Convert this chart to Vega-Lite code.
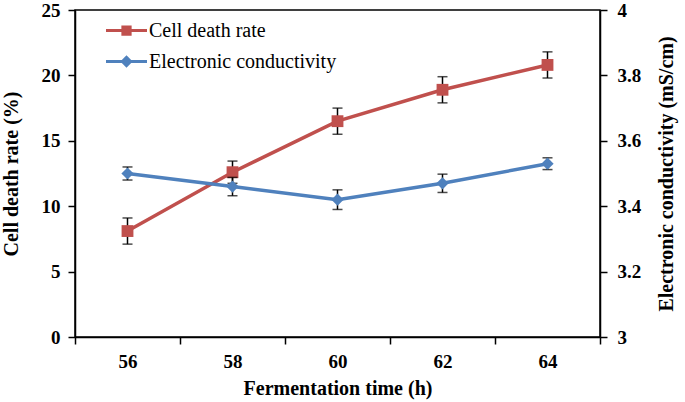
{
  "$schema": "https://vega.github.io/schema/vega-lite/v6.json",
  "width": 525,
  "height": 327,
  "autosize": {"type": "none"},
  "padding": {"left": 75, "top": 10, "right": 85, "bottom": 65},
  "config": {
    "view": {"stroke": "black", "strokeWidth": 1.5},
    "font": "Liberation Serif, Times New Roman, serif",
    "axis": {
      "labelFont": "Liberation Serif, Times New Roman, serif", "labelFontWeight": "bold", "labelFontSize": 19, "labelColor": "black",
      "titleFont": "Liberation Serif, Times New Roman, serif", "titleFontWeight": "bold", "titleFontSize": 20, "titleColor": "black",
      "domainColor": "black", "domainWidth": 1.5, "tickColor": "black", "tickWidth": 1.5, "tickSize": 7,
      "grid": false
    }
  },
  "data": {
    "values": [
      {"time": "56", "series": "Cell death rate", "value": 8.1, "err": 1.0},
      {"time": "58", "series": "Cell death rate", "value": 12.6, "err": 0.85},
      {"time": "60", "series": "Cell death rate", "value": 16.5, "err": 1.0},
      {"time": "62", "series": "Cell death rate", "value": 18.9, "err": 1.0},
      {"time": "64", "series": "Cell death rate", "value": 20.8, "err": 1.0},
      {"time": "56", "series": "Electronic conductivity", "value": 3.50, "err": 0.02},
      {"time": "58", "series": "Electronic conductivity", "value": 3.46, "err": 0.028},
      {"time": "60", "series": "Electronic conductivity", "value": 3.42, "err": 0.03},
      {"time": "62", "series": "Electronic conductivity", "value": 3.47, "err": 0.028},
      {"time": "64", "series": "Electronic conductivity", "value": 3.53, "err": 0.018}
    ]
  },
  "encoding": {
    "x": {
      "field": "time", "type": "ordinal",
      "scale": {"type": "band", "paddingInner": 0, "paddingOuter": 0},
      "axis": {"title": "Fermentation time (h)", "labelAngle": 0, "tickBand": "extent", "labelPadding": 8, "titlePadding": 7}
    }
  },
  "layer": [
    {
      "transform": [{"filter": "datum.series === 'Cell death rate'"}],
      "encoding": {
        "y": {
          "field": "value", "type": "quantitative",
          "scale": {"domain": [0, 25], "nice": false, "zero": false},
          "axis": {"title": "Cell death rate (%)", "values": [0, 5, 10, 15, 20, 25], "orient": "left", "labelPadding": 8, "titlePadding": 20}
        }
      },
      "layer": [
        {
          "mark": {"type": "errorbar", "ticks": {"size": 10, "thickness": 1.5, "color": "black"}, "rule": {"strokeWidth": 1.5, "color": "black"}},
          "encoding": {"yError": {"field": "err"}}
        },
        {
          "mark": {"type": "line", "strokeWidth": 3.5},
          "encoding": {
            "color": {
              "field": "series", "type": "nominal",
              "scale": {"domain": ["Cell death rate", "Electronic conductivity"], "range": ["#C0504D", "#4F81BD"]},
              "legend": {
                "orient": "none", "legendX": 31, "legendY": 0, "title": null, "padding": 0,
                "symbolSize": 1681, "labelFont": "Liberation Serif, Times New Roman, serif", "labelFontSize": 20, "labelFontWeight": "normal", "labelColor": "black",
                "labelOffset": 2, "rowPadding": 0, "labelLimit": 400,
                "encode": {
                  "symbols": {
                    "update": {
                      "shape": {"signal": "datum.value === 'Cell death rate' ? 'M-1,-0.075H1V0.075H-1Z M-0.25,-0.25H0.25V0.25H-0.25Z' : 'M-1,-0.075H1V0.075H-1Z M0,-0.3L0.3,0L0,0.3L-0.3,0Z'"},
                      "fill": {"signal": "datum.value === 'Cell death rate' ? '#C0504D' : '#4F81BD'"},
                      "stroke": {"value": "transparent"},
                      "strokeWidth": {"value": 0},
                      "size": {"value": 1681},
                      "opacity": {"value": 1}
                    }
                  }
                }
              }
            }
          }
        },
        {
          "mark": {"type": "point", "shape": "square", "filled": true, "size": 140, "opacity": 1},
          "encoding": {"color": {"field": "series", "type": "nominal"}}
        }
      ]
    },
    {
      "transform": [{"filter": "datum.series === 'Electronic conductivity'"}],
      "encoding": {
        "y": {
          "field": "value", "type": "quantitative",
          "scale": {"domain": [3, 4], "nice": false, "zero": false},
          "axis": {"title": "Electronic conductivity (mS/cm)", "values": [3, 3.2, 3.4, 3.6, 3.8, 4], "format": "~g", "orient": "right", "labelPadding": 10, "titlePadding": 36, "titleAngle": 270}
        }
      },
      "layer": [
        {
          "mark": {"type": "errorbar", "ticks": {"size": 10, "thickness": 1.5, "color": "black"}, "rule": {"strokeWidth": 1.5, "color": "black"}},
          "encoding": {"yError": {"field": "err"}}
        },
        {
          "mark": {"type": "line", "strokeWidth": 3.5},
          "encoding": {"color": {"field": "series", "type": "nominal"}}
        },
        {
          "mark": {"type": "point", "shape": "diamond", "filled": true, "size": 150, "opacity": 1},
          "encoding": {"color": {"field": "series", "type": "nominal"}}
        }
      ]
    }
  ],
  "resolve": {"scale": {"y": "independent"}}
}
